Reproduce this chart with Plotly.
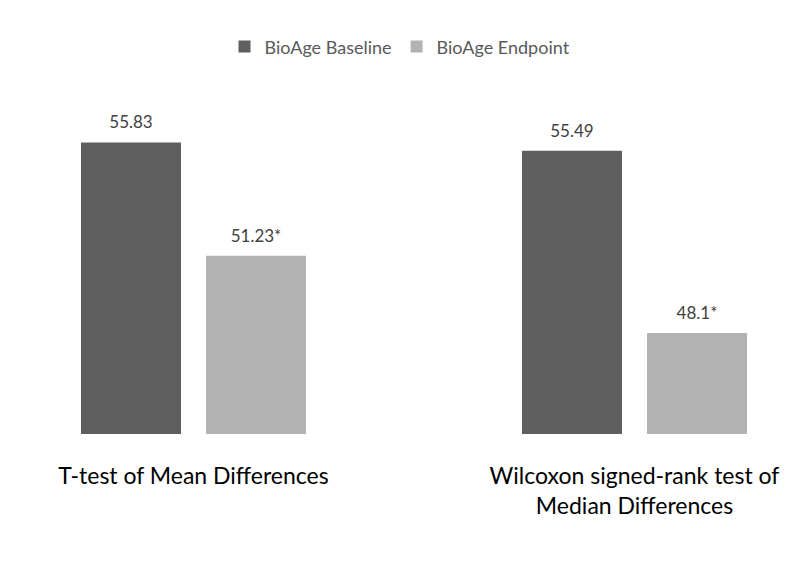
import plotly.graph_objects as go

categories = ["T-test of Mean Differences", "Wilcoxon signed-rank test of<br>Median Differences"]
baseline = [55.83, 55.49]
endpoint = [51.23, 48.1]
baseline_labels = ["55.83", "55.49"]
endpoint_labels = ["51.23*", "48.1*"]
axis_floor = 44

FONT = "Lato"
series = [
    ("BioAge Baseline", baseline, baseline_labels, "#5f5f5f"),
    ("BioAge Endpoint", endpoint, endpoint_labels, "#b2b2b2"),
]

fig = go.Figure()
for name, vals, labels, color in series:
    fig.add_trace(go.Bar(
        name=name, x=categories, y=[v - axis_floor for v in vals], base=axis_floor,
        marker=dict(color=color, line=dict(width=0)), offsetgroup=name,
    ))
for name, vals, labels, color in series:
    fig.add_trace(go.Scatter(
        x=categories, y=vals, mode="markers+text", text=labels,
        textposition="top center", showlegend=False, hoverinfo="skip",
        marker=dict(size=14, opacity=0), cliponaxis=False, offsetgroup=name,
        textfont=dict(family=FONT, size=17, color="#404040"),
    ))

fig.update_layout(
    width=800, height=578,
    paper_bgcolor="white", plot_bgcolor="white",
    margin=dict(l=0, r=0, t=100, b=144),
    barmode="group", bargap=0.433, bargroupgap=0.2,
    scattermode="group", scattergap=0.433,
    font=dict(family=FONT, color="#000000"),
    legend=dict(orientation="h", x=0.5, xanchor="center", y=0.919, yanchor="middle",
                yref="container", font=dict(family=FONT, size=18, color="#595959"),
                itemwidth=30, traceorder="normal"),
    showlegend=True,
)
fig.update_xaxes(range=[-0.4388, 1.3753], showline=False, showgrid=False, ticks="",
                 ticklabelstandoff=26,
                 tickfont=dict(family=FONT, size=23, color="#000000"))
fig.update_yaxes(range=[axis_floor, axis_floor + 334 / 24.65], visible=False, showgrid=False)

fig.write_html("out.html")
